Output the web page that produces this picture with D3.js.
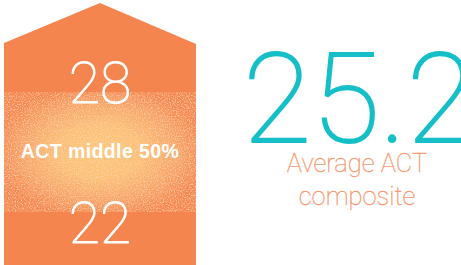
<!DOCTYPE html>
<html><head><meta charset="utf-8">
<script src="https://cdn.jsdelivr.net/npm/d3@7"></script>
<style>html,body{margin:0;padding:0;background:#fff;overflow:hidden}</style>
</head><body>
<script>
const rangeLabels = ["28", "22"];          // 75th and 25th percentile
const rangeTitle = ["ACT middle 50%"];
const averageValue = ["25.2"];
const averageLabel = ["Average ACT", "composite"];

const W = 461, H = 265;
const svg = d3.select("body").append("svg").attr("width", W).attr("height", H);
const defs = svg.append("defs");

const rg = defs.append("radialGradient").attr("id","glow")
  .attr("cx","50%").attr("cy","50%").attr("r","55%");
rg.append("stop").attr("offset","0%").attr("stop-color","#FDC87B");
rg.append("stop").attr("offset","40%").attr("stop-color","#FBBF76");
rg.append("stop").attr("offset","75%").attr("stop-color","#F7A366");
rg.append("stop").attr("offset","100%").attr("stop-color","#F4884F");

const f = defs.append("filter").attr("id","grain").attr("x","0").attr("y","0").attr("width","1").attr("height","1");
f.append("feTurbulence").attr("type","fractalNoise").attr("baseFrequency","0.85").attr("numOctaves","2").attr("seed","3").attr("result","noise");
f.append("feColorMatrix").attr("in","noise").attr("type","matrix")
  .attr("values","0 0 0 0 0.99  0 0 0 0 0.72  0 0 0 0 0.48  0 0 0 1.8 -0.8").attr("result","n2");
f.append("feComposite").attr("in","n2").attr("in2","SourceGraphic").attr("operator","in").attr("result","n3");
f.append("feMerge").call(m=>{m.append("feMergeNode").attr("in","SourceGraphic");m.append("feMergeNode").attr("in","n3");});

// house shape
const x0 = 4, x1 = 196, apexY = 3, shoulderY = 43;
const cx = (x0 + x1) / 2;
svg.append("path")
  .attr("d", d3.line()([[x0,H],[x0,shoulderY],[cx,apexY],[x1,shoulderY+1],[x1,H]]))
  .attr("fill","#F4854E");

// glow band
svg.append("rect").attr("x",x0).attr("y",92).attr("width",x1-x0).attr("height",120)
  .attr("fill","url(#glow)").attr("filter","url(#grain)");

const y = d3.scalePoint().domain(rangeLabels).range([103, 243]);
svg.selectAll("text.rng").data(rangeLabels).join("text").attr("class","rng")
  .attr("x",cx).attr("y",d=>y(d))
  .attr("text-anchor","middle").attr("fill","#fff").attr("stroke","#fff").attr("stroke-width",0.9)
  .style("font-family","Roboto, 'Liberation Sans', sans-serif").style("font-weight","100")
  .style("font-size","57px").text(d=>d);

svg.append("text").attr("x",cx).attr("y",158).attr("text-anchor","middle").attr("fill","#fff")
  .style("font-family","'Liberation Sans', Arial, sans-serif").style("font-weight","700")
  .style("font-size","19.5px").style("letter-spacing","0.4px").text(rangeTitle[0]);

svg.append("text").attr("x",243).attr("y",142).attr("fill","#16BFC8").attr("stroke","#16BFC8").attr("stroke-width",1.8)
  .style("font-family","Roboto, 'Liberation Sans', sans-serif").style("font-weight","100")
  .style("font-size","125px").text(averageValue[0]);

svg.selectAll("text.avg").data(averageLabel).join("text").attr("class","avg")
  .attr("x",357).attr("y",(d,i)=>172+i*33).attr("text-anchor","middle").attr("fill","#F8956A")
  .attr("stroke","#F8956A").attr("stroke-width",0.3)
  .style("font-family","Roboto, 'Liberation Sans', sans-serif").style("font-weight","100")
  .style("font-size","25.5px").text(d=>d);
</script>
</body></html>
